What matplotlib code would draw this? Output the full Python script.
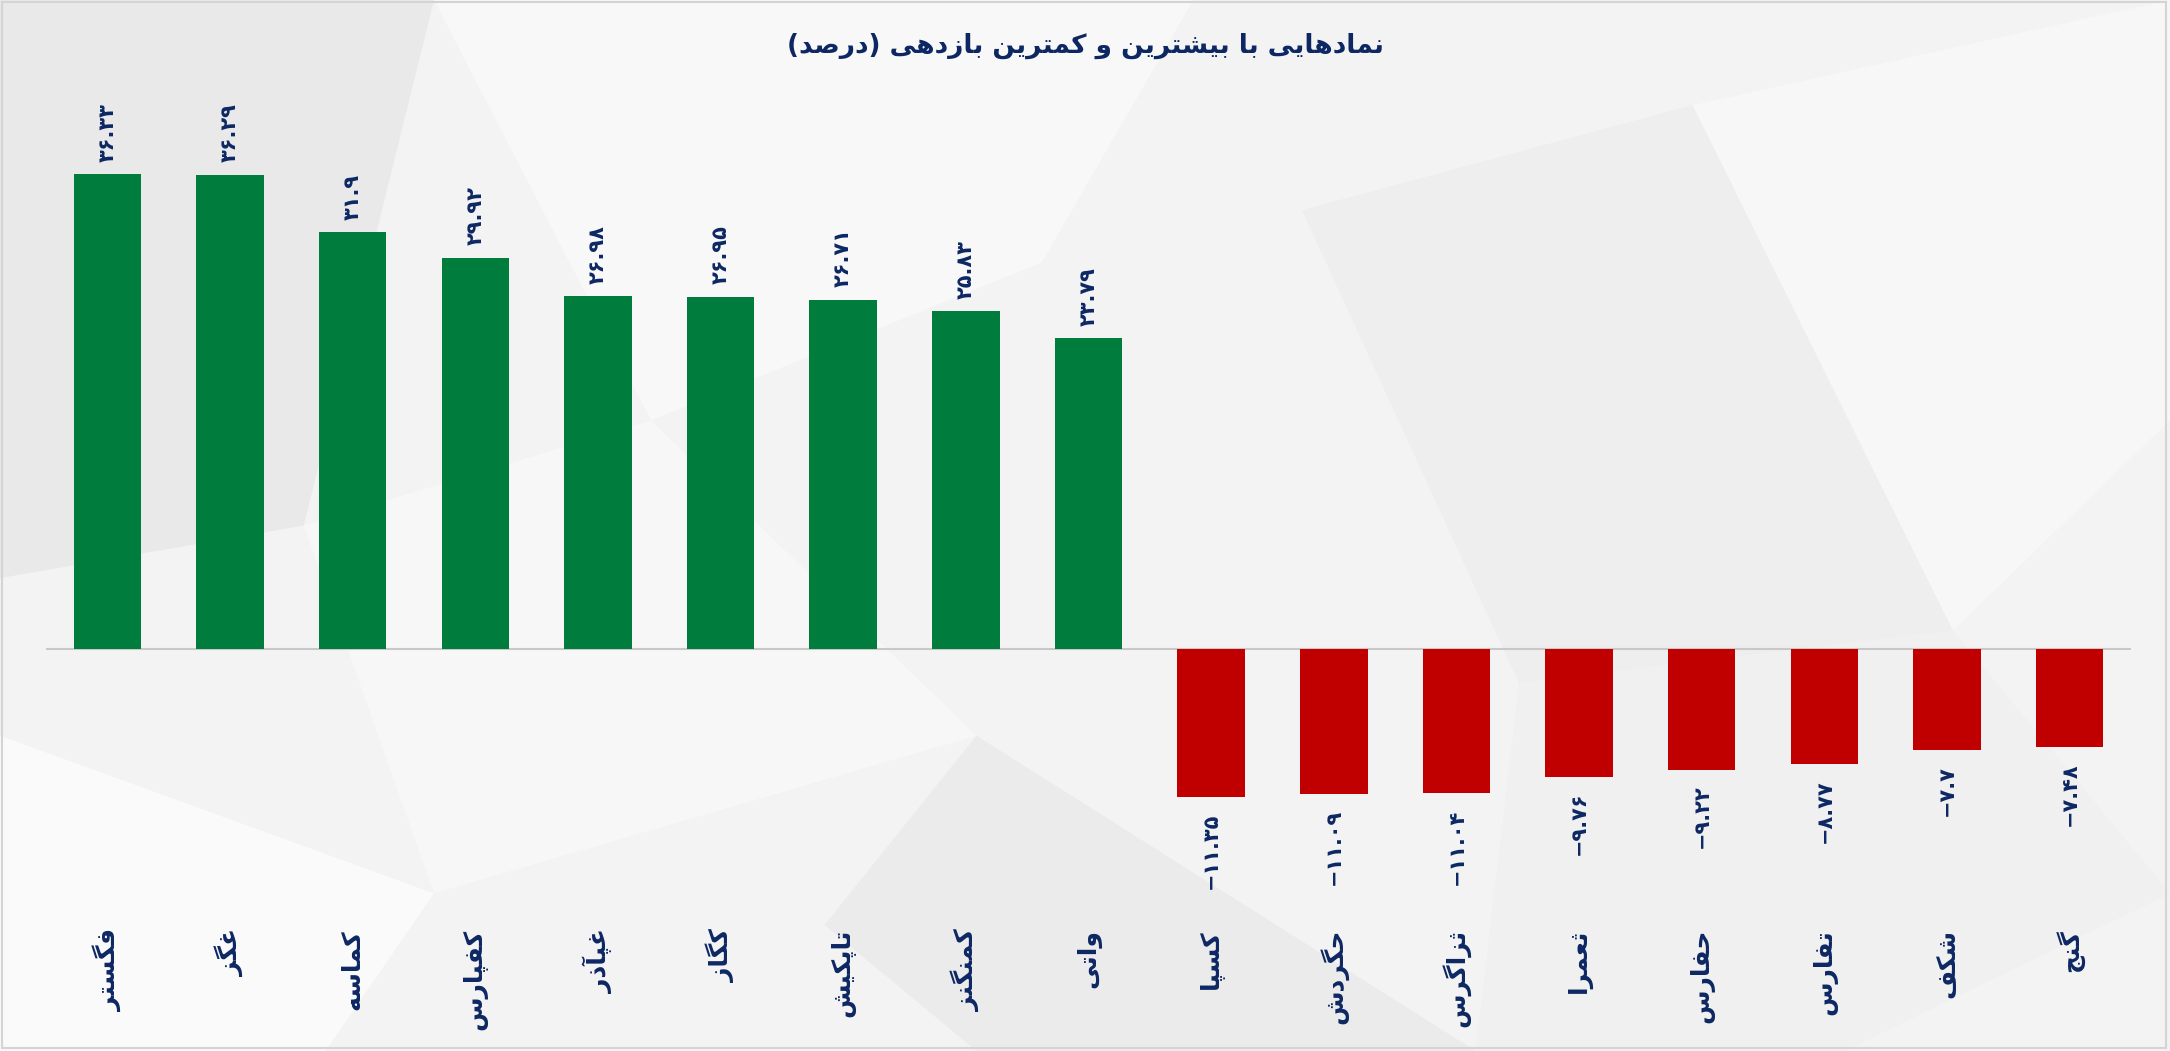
import numpy as np
import matplotlib
matplotlib.use('Agg')
import matplotlib.pyplot as plt
from matplotlib.patches import Polygon, Rectangle

symbols = ['فگستر', 'غگز', 'کماسه', 'کفپارس', 'غپآذر', 'کگاز', 'تاپکیش', 'کمنگنز', 'واتی',
           'کسپا', 'حگردش', 'ثزاگرس', 'ثعمرا', 'حفارس', 'تفارس', 'شکف', 'گنج']
returns = [36.33, 36.29, 31.9, 29.92, 26.98, 26.95, 26.71, 25.83, 23.79,
           -11.35, -11.09, -11.04, -9.76, -9.22, -8.77, -7.7, -7.48]
title = 'نمادهایی با بیشترین و کمترین بازدهی (درصد)'

# presentation forms: isolated, final, initial, medial (None -> joins on right only)
FORMS = {
    'ا': (0xFE8D, 0xFE8E, None, None), 'آ': (0xFE81, 0xFE82, None, None),
    'د': (0xFEA9, 0xFEAA, None, None), 'ذ': (0xFEAB, 0xFEAC, None, None),
    'ر': (0xFEAD, 0xFEAE, None, None), 'ز': (0xFEAF, 0xFEB0, None, None),
    'و': (0xFEED, 0xFEEE, None, None),
    'ب': (0xFE8F, 0xFE90, 0xFE91, 0xFE92), 'پ': (0xFB56, 0xFB57, 0xFB58, 0xFB59),
    'ت': (0xFE95, 0xFE96, 0xFE97, 0xFE98), 'ث': (0xFE99, 0xFE9A, 0xFE9B, 0xFE9C),
    'ج': (0xFE9D, 0xFE9E, 0xFE9F, 0xFEA0), 'ح': (0xFEA1, 0xFEA2, 0xFEA3, 0xFEA4),
    'س': (0xFEB1, 0xFEB2, 0xFEB3, 0xFEB4), 'ش': (0xFEB5, 0xFEB6, 0xFEB7, 0xFEB8),
    'ص': (0xFEB9, 0xFEBA, 0xFEBB, 0xFEBC), 'ع': (0xFEC9, 0xFECA, 0xFECB, 0xFECC),
    'غ': (0xFECD, 0xFECE, 0xFECF, 0xFED0), 'ف': (0xFED1, 0xFED2, 0xFED3, 0xFED4),
    'ک': (0xFB8E, 0xFB8F, 0xFB90, 0xFB91), 'گ': (0xFB92, 0xFB93, 0xFB94, 0xFB95),
    'م': (0xFEE1, 0xFEE2, 0xFEE3, 0xFEE4), 'ن': (0xFEE5, 0xFEE6, 0xFEE7, 0xFEE8),
    'ه': (0xFEE9, 0xFEEA, 0xFEEB, 0xFEEC), 'ی': (0xFBFC, 0xFBFD, 0xFBFE, 0xFBFF),
}
MIRROR = {'(': ')', ')': '('}


def fa(text):
    # crude shaping + rtl reorder, enough for these labels
    out = []
    for i, ch in enumerate(text):
        if ch not in FORMS:
            out.append(MIRROR.get(ch, ch))
            continue
        prev = text[i - 1] if i > 0 else ''
        nxt = text[i + 1] if i + 1 < len(text) else ''
        join_prev = prev in FORMS and FORMS[prev][2] is not None
        join_next = FORMS[ch][2] is not None and nxt in FORMS
        iso, fin, ini, med = FORMS[ch]
        if join_prev and join_next:
            code = med
        elif join_prev:
            code = fin
        elif join_next:
            code = ini
        else:
            code = iso
        out.append(chr(code))
    return ''.join(out[::-1])


def fa_num(v):
    s = '{:g}'.format(v).replace('-', '\u2212')
    return s.translate(str.maketrans('0123456789', '۰۱۲۳۴۵۶۷۸۹'))


plt.rcParams['font.family'] = ['DejaVu Sans']
navy = '#0d2763'

fig = plt.figure(figsize=(21.7, 10.51), dpi=100)
fig.patch.set_facecolor('#f3f3f3')

# faint low-poly backdrop
shapes = [
    ([(0, 1), (0.2, 1), (0.14, 0.5), (0, 0.45)], '#e9e9e9'),
    ([(0.2, 1), (0.55, 1), (0.48, 0.75), (0.3, 0.6)], '#f8f8f8'),
    ([(0.14, 0.5), (0.3, 0.6), (0.45, 0.3), (0.2, 0.15)], '#f7f7f7'),
    ([(0.45, 0.3), (0.68, 0.0), (0.45, 0.0), (0.38, 0.12)], '#ebebeb'),
    ([(0.6, 0.8), (0.78, 0.9), (0.9, 0.4), (0.7, 0.35)], '#eeeeee'),
    ([(0.78, 0.9), (1, 1), (1, 0.6), (0.9, 0.4)], '#f7f7f7'),
    ([(0.0, 0.3), (0.2, 0.15), (0.15, 0.0), (0.0, 0.0)], '#fafafa'),
    ([(0.7, 0.35), (0.9, 0.4), (1, 0.15), (0.85, 0.0), (0.68, 0.0)], '#f0f0f0'),
]
for pts, c in shapes:
    fig.patches.append(Polygon(pts, closed=True, transform=fig.transFigure,
                               facecolor=c, edgecolor='none', zorder=-10))
fig.patches.append(Rectangle((0.001, 0.003), 0.997, 0.995, transform=fig.transFigure,
                             fill=False, edgecolor='#d4d4d4', lw=1.5, zorder=-5))

ax = fig.add_axes([46 / 2170, 1 - 915 / 1051, (2131 - 46) / 2170, (915 - 110) / 1051])
ax.patch.set_alpha(0)

x = np.arange(len(symbols))
colors = ['#007c3c' if v > 0 else '#c00000' for v in returns]
ax.bar(x, returns, width=0.55, color=colors, zorder=3)
ax.axhline(0, color='#c8c8c8', lw=1.5, zorder=2)

for xi, v in zip(x, returns):
    if v > 0:
        ax.annotate(fa_num(v), (xi, v), xytext=(0, 9), textcoords='offset points',
                    rotation=90, ha='center', va='bottom', fontsize=15,
                    fontweight='bold', color=navy)
    else:
        ax.annotate(fa_num(v), (xi, v), xytext=(0, -11), textcoords='offset points',
                    rotation=90, ha='center', va='top', fontsize=15,
                    fontweight='bold', color=navy)

ax.set_xlim(-0.5, len(symbols) - 0.5)
ax.set_ylim(-(915 - 649) / 13.07, (649 - 110) / 13.07)
ax.set_xticks(x, [fa(s) for s in symbols], rotation=90, fontsize=18,
              fontweight='bold', color=navy)
ax.tick_params(axis='x', length=0, pad=10)
ax.set_yticks([])
for sp in ax.spines.values():
    sp.set_visible(False)

fig.text(0.5, 1 - 46 / 1051, fa(title), ha='center', va='center',
         fontsize=19, fontweight='bold', color=navy)

fig.savefig('out.png', dpi=100, facecolor=fig.get_facecolor())
